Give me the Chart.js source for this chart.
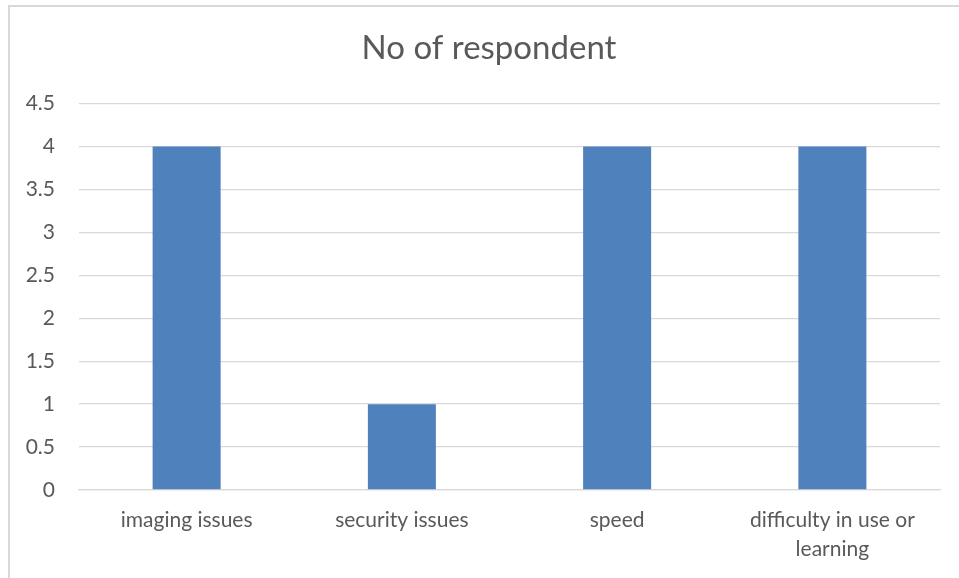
<!DOCTYPE html>
<html>
<head>
<meta charset="utf-8">
<script src="https://cdn.jsdelivr.net/npm/chart.js@4/dist/chart.umd.min.js"></script>
<style>
  html, body { margin: 0; padding: 0; background: #fff; }
  #frame { position: absolute; left: 8px; top: 5px; width: 1000px; height: 700px;
           border-left: 2px solid #d9d9d9; border-top: 2px solid #d9d9d9; }
  canvas { position: absolute; left: 0; top: 0; }
</style>
</head>
<body>
<div id="frame"></div>
<canvas id="chart" width="959" height="578"></canvas>
<script>
// chart data
var categories = ["imaging issues", "security issues", "speed", ["difficulty in use or", "learning"]];
var respondents = [4, 1, 4, 4];
var chartTitle = "No of respondent";

var textGrey = "#595959";
var gridGrey = "#d9d9d9";
var fontFamily = "Lato, 'Open Sans', sans-serif";

// centre the title on the whole frame instead of the padded box
var titleShift = {
    id: 'titleShift',
    afterLayout: function (chart) {
        if (chart.titleBlock) chart.titleBlock.left = 38;
    }
};

const ctx = document.getElementById("chart").getContext("2d");
var chartId = new Chart(ctx, {
    type: 'bar',
    data: {
        labels: categories,
        datasets: [{
            label: chartTitle,
            data: respondents,
            backgroundColor: "#4f81bd",
            borderWidth: 0,
            categoryPercentage: 1,
            barPercentage: 0.316
        }]
    },
    options: {
        responsive: false,
        animation: false,
        layout: { padding: { left: 0, right: 19, top: 0, bottom: 0 } },
        scales: {
            y: {
                min: 0,
                max: 4.5,
                ticks: { stepSize: 0.5, color: textGrey, padding: 24,
                         font: { family: fontFamily, size: 21 },
                         callback: function (v) { return String(v); } },
                grid: { color: gridGrey, lineWidth: 1.3, drawTicks: false },
                border: { display: false },
                afterFit: function (s) { s.width = 79; }
            },
            x: {
                ticks: { color: textGrey, padding: 16, maxRotation: 0, autoSkip: false,
                         font: { family: fontFamily, size: 21, lineHeight: 1.38 } },
                grid: { display: false, drawTicks: false },
                border: { color: gridGrey, width: 1.3 },
                afterFit: function (s) { s.height = 88; }
            }
        },
        plugins: {
            legend: { display: false },
            tooltip: { enabled: false },
            title: {
                display: true,
                text: chartTitle,
                color: textGrey,
                font: { family: fontFamily, size: 33, weight: 'normal', lineHeight: 1.2 },
                padding: { top: 29, bottom: 35 }
            }
        }
    },
    plugins: [titleShift]
});
</script>
</body>
</html>
